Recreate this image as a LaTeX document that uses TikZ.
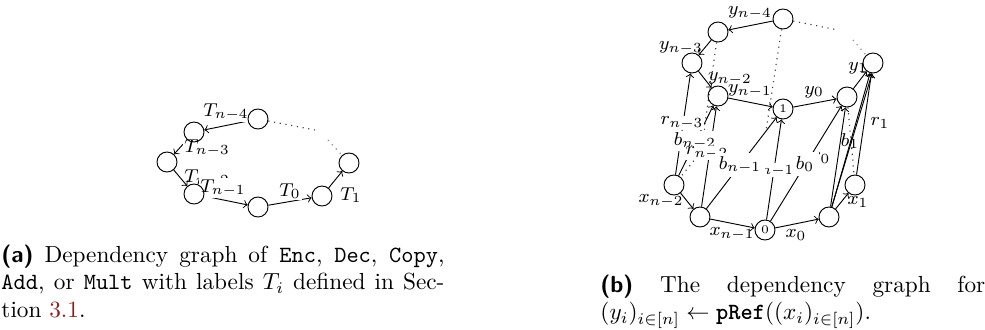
\documentclass[tikz,border=0pt]{standalone}
\usepackage{fontspec}
\usepackage{amsmath}
\definecolor{linkred}{rgb}{0.55,0.12,0.12}
\pgfdeclarelayer{edgelayer}
\pgfdeclarelayer{labellayer}
\pgfsetlayers{edgelayer,labellayer,main}
\begin{document}
\begin{tikzpicture}[x=0.43pt,y=-0.43pt,
  vtx/.style={circle,draw,minimum size=8.6pt,inner sep=0pt,line width=0.4pt,font=\fontsize{5}{6}\selectfont},
  lab/.style={inner sep=0.4pt,font=\fontsize{8.5}{10}\selectfont},
  flab/.style={lab,fill=white},
  arr/.style={->,line width=0.4pt},
  hid/.style={dotted,line width=0.5pt,black!75},
  hidl/.style={dotted,line width=0.5pt,black!45},
  captext/.style={inner sep=0pt,align=justify,font=\fontsize{10}{12}\selectfont}]
\useasboundingbox (0,0) rectangle (985,329);

% ---------------- (a) ----------------
\node[vtx] (A1) at (258,119) {};
\node[vtx] (A2) at (194,132) {};
\node[vtx] (A3) at (167,162) {};
\node[vtx] (A4) at (194,194) {};
\node[vtx] (A5) at (258,207) {};
\node[vtx] (A6) at (322,196) {};
\node[vtx] (A7) at (349,163) {};
\coordinate (ga1) at (315,130);
\coordinate (ga2) at (328,140);
\begin{pgfonlayer}{edgelayer}
\draw[hid] (A1) -- (ga1);
\draw[hidl] (ga2) -- (A7);
\draw[arr] (A1) -- (A2);
\draw[arr] (A2) -- (A3);
\draw[arr] (A3) -- (A4);
\draw[arr] (A4) -- (A5);
\draw[arr] (A5) -- (A6);
\draw[arr] (A6) -- (A7);
\end{pgfonlayer}
\begin{pgfonlayer}{labellayer}
\node[flab] (tA1) at (226,112) {$T_{n-4}$};
\node[flab] (tA2) at (207,148) {$T_{n-3}$};
\node[lab] (tA3) at (207,178) {$T_{n-2}$};
\node[flab] (tA4) at (223,188) {$T_{n-1}$};
\node[flab] (tA5) at (290,191) {$T_0$};
\node[flab] (tA6) at (351,195) {$T_1$};
\end{pgfonlayer}

% ---------------- (b) ----------------
\node[vtx] (B1) at (783,19) {};
\node[vtx] (B2) at (718,32) {};
\node[vtx] (B3) at (692,63) {};
\node[vtx] (B4) at (718,96) {};
\node[vtx] (B5) at (783,109) {1};
\node[vtx] (B6) at (847,97) {};
\node[vtx] (B7) at (873,63) {};
\node[vtx] (C1) at (674,185) {};
\node[vtx] (C2) at (700,217) {};
\node[vtx] (C3) at (765,230) {0};
\node[vtx] (C4) at (829,217) {};
\node[vtx] (C5) at (855,185) {};
\coordinate (gb1) at (838,30);
\coordinate (gb2) at (853,40);
\coordinate (H0) at (766,131);
\coordinate (H1) at (701,152);

\begin{pgfonlayer}{edgelayer}
% hidden (dotted) parts
\draw[hid] (B1) -- (gb1);
\draw[hidl] (gb2) -- (B7);
\draw[hid] (B1) -- (H0);
\draw[hid] (B2) -- (H1) -- (C1);
\draw[hid] (B6) -- (C5);
% upper ring
\draw[arr] (B1) -- (B2);
\draw[arr] (B2) -- (B3);
\draw[arr] (B3) -- (B4);
\draw[arr] (B4) -- (B5);
\draw[arr] (B5) -- (B6);
\draw[arr] (B6) -- (B7);
% lower ring
\draw[arr] (C1) -- (C2);
\draw[arr] (C2) -- (C3);
\draw[arr] (C3) -- (C4);
\draw[arr] (C4) -- (C5);
% vertical dependencies
\draw[arr] (C1) -- (B3);
\draw[arr] (C1) -- (B4);
\draw[arr] (C2) -- (B4);
\draw[arr] (C3) -- (B5);
\draw[arr] (C2) -- (B5);
\draw[arr] (C4) -- (B6);
\draw[arr] (C3) -- (B6);
\draw[arr] (C4) -- (B7);
\draw[arr] (C4.75) -- (B7.-95);
\draw[arr] (C5) -- (B7);
\end{pgfonlayer}

\begin{pgfonlayer}{labellayer}
\node[lab] (ly1) at (750,13) {$y_{n-4}$};
\node[lab] (ly2) at (681,48) {$y_{n-3}$};
\node[lab] (ly3) at (730,79) {$y_{n-2}$};
\node[lab] (ly4) at (750,91) {$y_{n-1}$};
\node[lab] (ly5) at (814,92) {$y_0$};
\node[lab] (ly6) at (858,68) {$y_1$};
\node[lab] (lx1) at (661,201) {$x_{n-2}$};
\node[lab] (lx2) at (732,234) {$x_{n-1}$};
\node[lab] (lx3) at (796,235) {$x_0$};
\node[lab] (lx4) at (858,202) {$x_1$};
\node[flab] (lr1) at (682,123) {$r_{n-3}$};
\node[flab] (lb1) at (695,141) {$b_{n-2}$};
\node[flab] (lr2) at (707,153) {$r_{n-2}$};
\node[flab] (lr3) at (773,170) {$r_{n-1}$};
\node[flab,inner sep=1.5pt] (lb2) at (740,165) {$b_{n-1}$};
\node[flab] (lr4) at (821,158) {$r_0$};
\node[flab,inner sep=2pt] (lb3) at (805,164) {$b_0$};
\node[lab] (lb4) at (850,141) {$b_1$};
\node[lab] (lr5) at (880,123) {$r_1$};
\end{pgfonlayer}

% ---------------- captions ----------------
\node[captext,text width=190.5pt,anchor=base west] (capa) at (1,262)
  {\textsf{\textbf{(a)}} Dependency graph of \texttt{Enc}, \texttt{Dec}, \texttt{Copy},\linebreak
   \texttt{Add}, or \texttt{Mult} with labels $T_i$ defined in Sec-\linebreak
   tion {\color{linkred}3.1}.};
\node[captext,text width=165.5pt,anchor=base west] (capb) at (600,292)
  {\textsf{\textbf{(b)}} The dependency graph for\linebreak \mbox{$(y_i)_{i\in[n]} \leftarrow \texttt{\textbf{pRef}}((x_i)_{i\in[n]})$}.};
\end{tikzpicture}
\end{document}
